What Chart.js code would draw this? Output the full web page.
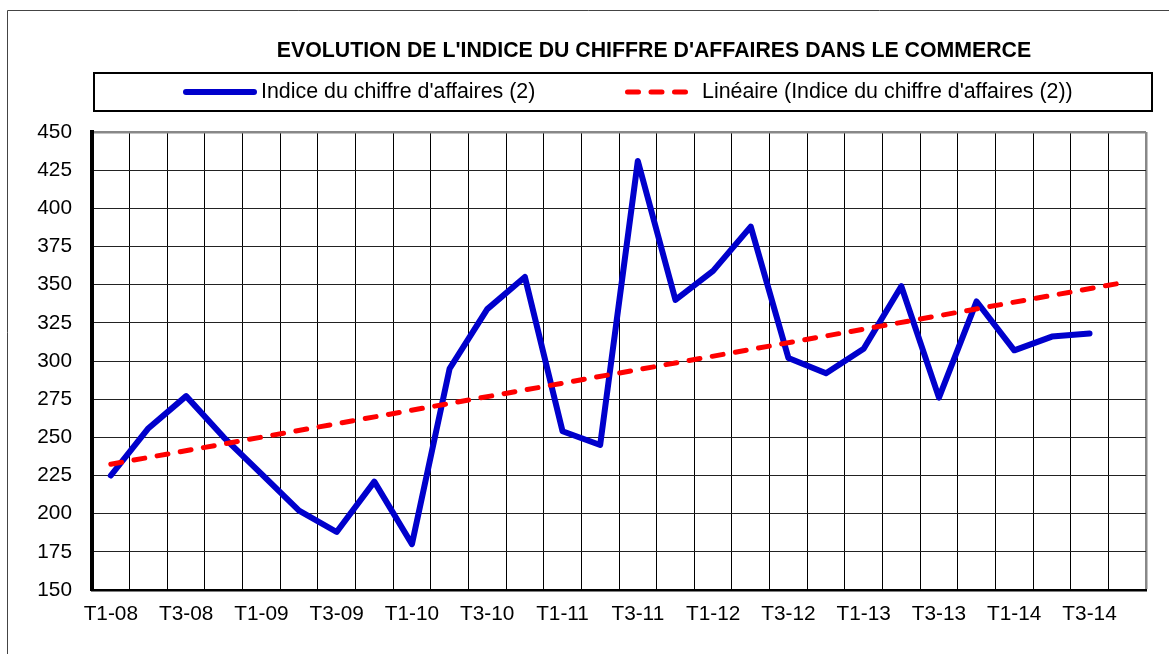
<!DOCTYPE html>
<html>
<head>
<meta charset="utf-8">
<script src="https://cdn.jsdelivr.net/npm/chart.js@4.4.1/dist/chart.umd.min.js"></script>
<style>
html,body{margin:0;padding:0;background:#fff;overflow:hidden}
#wrap{position:relative;width:1169px;height:654px}
</style>
</head>
<body>
<div id="wrap"><canvas id="c" width="1169" height="654"></canvas></div>
<script>
// ---- data ----
const chartTitle = "EVOLUTION DE L'INDICE DU CHIFFRE D'AFFAIRES DANS LE COMMERCE";
const seriesName = "Indice du chiffre d'affaires (2)";
const trendName = "Linéaire (Indice du chiffre d'affaires (2))";
const categories = [
  'T1-08','T2-08','T3-08','T4-08',
  'T1-09','T2-09','T3-09','T4-09',
  'T1-10','T2-10','T3-10','T4-10',
  'T1-11','T2-11','T3-11','T4-11',
  'T1-12','T2-12','T3-12','T4-12',
  'T1-13','T2-13','T3-13','T4-13',
  'T1-14','T2-14','T3-14','T4-14'
];
const indexValues = [
  225, 256, 277, 250,
  226, 202, 188, 221,
  180, 295, 334, 355,
  254, 245, 431, 340,
  359, 388, 302, 292,
  308, 349, 276, 339,
  307, 316, 318
];
const trendStart = 232.4;   // value of the linear trend at the first category
const trendEnd = 351.8;     // value of the linear trend at the last category
const yMin = 150, yMax = 450, yStep = 25;

// ---- styling ----
const FONT = '"Liberation Sans", Arial, sans-serif';
const BLUE = '#0000CC';
const RED = '#FF0000';

const decor = {
  id: 'decor',
  beforeDraw(chart) {
    const ctx = chart.ctx;
    ctx.save();
    ctx.fillStyle = '#fff';
    ctx.fillRect(0, 0, chart.width, chart.height);
    ctx.strokeStyle = '#444';
    ctx.lineWidth = 1;
    ctx.beginPath();
    ctx.moveTo(7.5, chart.height + 5);
    ctx.lineTo(7.5, 10.5);
    ctx.lineTo(chart.width + 5, 10.5);
    ctx.stroke();
    ctx.restore();
  },
  afterDraw(chart) {
    const ctx = chart.ctx;
    ctx.save();
    // title
    ctx.fillStyle = '#000';
    ctx.font = 'bold 21.3px ' + FONT;
    ctx.textAlign = 'center';
    ctx.textBaseline = 'middle';
    ctx.fillText(chartTitle, 654, 51);
    // legend box
    ctx.strokeStyle = '#000';
    ctx.lineWidth = 2;
    ctx.strokeRect(94, 73, 1058, 38);
    const ds = chart.data.datasets;
    const ly = 92;
    // item 1
    ctx.lineCap = 'round';
    ctx.strokeStyle = ds[0].borderColor;
    ctx.lineWidth = ds[0].borderWidth;
    ctx.setLineDash([]);
    ctx.beginPath(); ctx.moveTo(186, ly); ctx.lineTo(254, ly); ctx.stroke();
    ctx.font = '21.4px ' + FONT;
    ctx.textAlign = 'left';
    ctx.fillStyle = '#000';
    ctx.fillText(ds[0].label, 261, ly + 0.5);
    // item 2
    ctx.strokeStyle = ds[1].borderColor;
    ctx.lineWidth = ds[1].borderWidth;
    ctx.setLineDash(ds[1].borderDash);
    ctx.beginPath(); ctx.moveTo(627.5, ly); ctx.lineTo(627.5 + 60, ly); ctx.stroke();
    ctx.setLineDash([]);
    ctx.fillText(ds[1].label, 702, ly + 0.5);
    ctx.restore();
  }
};

new Chart(document.getElementById('c'), {
  type: 'line',
  data: {
    labels: categories,
    datasets: [
      {
        label: seriesName,
        data: indexValues,
        borderColor: BLUE,
        backgroundColor: BLUE,
        borderWidth: 6,
        borderCapStyle: 'round',
        borderJoinStyle: 'round',
        pointRadius: 0,
        tension: 0,
        fill: false,
        order: 2
      },
      {
        label: trendName,
        data: [
          { x: categories[0], y: trendStart },
          { x: categories[categories.length - 1], y: trendEnd }
        ],
        borderColor: RED,
        backgroundColor: RED,
        borderWidth: 5,
        borderDash: [11, 12.5],
        borderCapStyle: 'round',
        pointRadius: 0,
        tension: 0,
        fill: false,
        order: 1
      }
    ]
  },
  options: {
    responsive: false,
    animation: false,
    devicePixelRatio: 1,
    layout: { padding: { top: 132, right: 23, left: 0, bottom: 0 } },
    plugins: { legend: { display: false }, title: { display: false }, tooltip: { enabled: false } },
    scales: {
      x: {
        type: 'category',
        offset: true,
        grid: {
          offset: true,
          drawTicks: false,
          color: c => (c.type === 'scale' ? '#888' : '#000'),
          lineWidth: c => (c.type === 'scale' ? 2.5 : 1)
        },
        border: { display: true, color: '#000', width: 2.5 },
        ticks: {
          autoSkip: false,
          maxRotation: 0,
          padding: 12,
          color: '#000',
          font: { family: FONT, size: 20.8 },
          callback: function (v, i) { return i % 2 === 0 ? this.getLabelForValue(v) : ''; }
        },
        afterFit: s => { s.height = 64; }
      },
      y: {
        min: yMin,
        max: yMax,
        grid: {
          drawTicks: false,
          color: c => (c.tick && c.tick.value === yMax ? '#888' : '#222'),
          lineWidth: c => (c.tick && c.tick.value === yMax ? 2.5 : 1)
        },
        border: { display: true, color: '#000', width: 4 },
        ticks: {
          stepSize: yStep,
          padding: 20,
          color: '#000',
          font: { family: FONT, size: 20.8 }
        },
        afterFit: s => { s.width = 92; }
      }
    }
  },
  plugins: [decor]
});
</script>
</body>
</html>
